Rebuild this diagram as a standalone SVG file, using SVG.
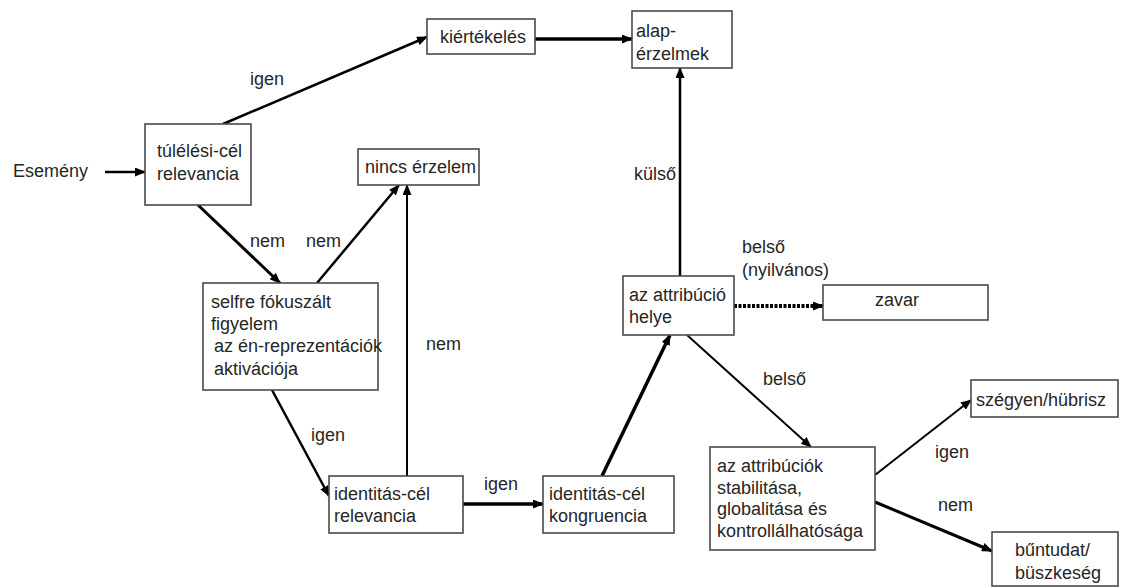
<svg xmlns="http://www.w3.org/2000/svg" width="1122" height="587" viewBox="0 0 1122 587">
<defs>
<style>
text{font-family:"Liberation Sans",Arial,sans-serif;font-size:18px;fill:#262626}
.box{fill:#fff;stroke:#4a4a4a;stroke-width:1.6}
.c{stroke:#000;fill:none}
</style>
<marker id="ah" markerUnits="userSpaceOnUse" markerWidth="11" markerHeight="9" refX="10" refY="4.5" orient="auto">
<path d="M0,0 L11,4.5 L0,9 z" fill="#000"/>
</marker>
</defs>
<rect width="1122" height="587" fill="#fff"/>
<g id="connectors">
<line class="c" x1="105" y1="172" x2="145" y2="172" stroke-width="2.5" marker-end="url(#ah)"/>
<line class="c" x1="223" y1="124" x2="427" y2="37" stroke-width="2.5" marker-end="url(#ah)"/>
<line class="c" x1="198" y1="205" x2="280" y2="283" stroke-width="3" marker-end="url(#ah)"/>
<line class="c" x1="317" y1="283" x2="399" y2="185" stroke-width="2.5" marker-end="url(#ah)"/>
<line class="c" x1="407" y1="476" x2="407" y2="185" stroke-width="2" marker-end="url(#ah)"/>
<line class="c" x1="272" y1="390" x2="329" y2="496" stroke-width="2.5" marker-end="url(#ah)"/>
<line class="c" x1="535" y1="39" x2="632" y2="39" stroke-width="3.5" marker-end="url(#ah)"/>
<line class="c" x1="463" y1="504" x2="543" y2="504" stroke-width="3.5" marker-end="url(#ah)"/>
<line class="c" x1="602" y1="476" x2="670" y2="335" stroke-width="3.5" marker-end="url(#ah)"/>
<line class="c" x1="680" y1="276" x2="680" y2="68" stroke-width="2.5" marker-end="url(#ah)"/>
<line class="c" x1="734" y1="306" x2="823" y2="306" stroke-width="4" stroke-dasharray="3,1.5" marker-end="url(#ah)"/>
<line class="c" x1="687" y1="335" x2="811" y2="447" stroke-width="2" marker-end="url(#ah)"/>
<line class="c" x1="875" y1="475" x2="971" y2="400" stroke-width="2" marker-end="url(#ah)"/>
<line class="c" x1="875" y1="502" x2="992" y2="551" stroke-width="3" marker-end="url(#ah)"/>
</g>
<g id="labels">
<text x="13" y="177">Esemény</text>
<text x="250" y="85">igen</text>
<text x="250" y="247">nem</text>
<text x="306" y="247">nem</text>
<text x="426" y="350">nem</text>
<text x="311" y="441">igen</text>
<text x="484" y="490">igen</text>
<text x="634" y="180">külső</text>
<text x="742" y="253">belső</text>
<text x="742" y="276">(nyilvános)</text>
<text x="763" y="385">belső</text>
<text x="935" y="458">igen</text>
<text x="938" y="511">nem</text>
</g>
<g id="tulelesi">
<rect class="box" x="145" y="124" width="106" height="81"/>
<text x="157" y="157">túlélési-cél</text>
<text x="157" y="180">relevancia</text>
</g>
<g id="kiertekeles">
<rect class="box" x="427" y="19" width="108" height="35"/>
<text x="440" y="43">kiértékelés</text>
</g>
<g id="alaperzelmek">
<rect class="box" x="632" y="11" width="100" height="57"/>
<text x="636" y="37">alap-</text>
<text x="636" y="60">érzelmek</text>
</g>
<g id="nincs">
<rect class="box" x="358" y="149" width="121" height="36"/>
<text x="365" y="173">nincs érzelem</text>
</g>
<g id="selfre">
<rect class="box" x="203" y="283" width="175" height="107"/>
<text x="211" y="308">selfre fókuszált</text>
<text x="211" y="330">figyelem</text>
<text x="214" y="352">az én-reprezentációk</text>
<text x="214" y="375">aktivációja</text>
</g>
<g id="idrel">
<rect class="box" x="329" y="476" width="134" height="57"/>
<text x="334" y="500">identitás-cél</text>
<text x="334" y="522">relevancia</text>
</g>
<g id="idkong">
<rect class="box" x="543" y="476" width="131" height="57"/>
<text x="549" y="500">identitás-cél</text>
<text x="549" y="522">kongruencia</text>
</g>
<g id="attribucio">
<rect class="box" x="623" y="276" width="111" height="59"/>
<text x="629" y="301">az attribúció</text>
<text x="629" y="323">helye</text>
</g>
<g id="zavar">
<rect class="box" x="823" y="285" width="165" height="35"/>
<text x="875" y="306">zavar</text>
</g>
<g id="stabilitas">
<rect class="box" x="710" y="447" width="165" height="103"/>
<text x="717" y="472">az attribúciók</text>
<text x="717" y="494">stabilitása,</text>
<text x="717" y="515">globalitása és</text>
<text x="717" y="537">kontrollálhatósága</text>
</g>
<g id="szegyen">
<rect class="box" x="971" y="380" width="147" height="37"/>
<text x="976" y="406">szégyen/hübrisz</text>
</g>
<g id="buntudat">
<rect class="box" x="992" y="532" width="126" height="54"/>
<text x="1015" y="556">bűntudat/</text>
<text x="1015" y="579">büszkeség</text>
</g>
</svg>
